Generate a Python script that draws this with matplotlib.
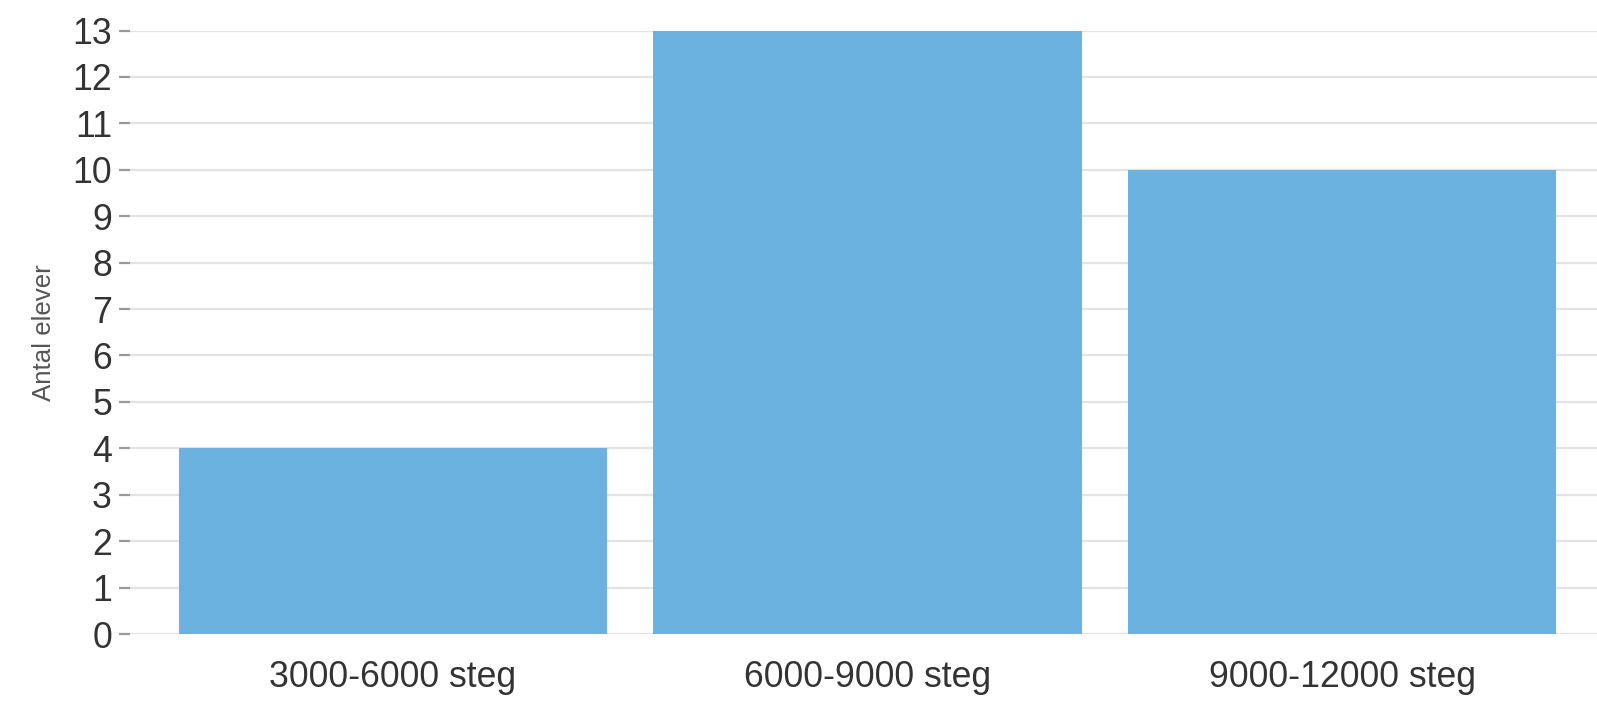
import matplotlib
matplotlib.use("Agg")
import matplotlib.pyplot as plt

categories = ["3000-6000 steg", "6000-9000 steg", "9000-12000 steg"]
values = [4, 13, 10]
y_ticks = list(range(0, 14))
y_label = "Antal elever"

plt.rcParams['font.family'] = ['Liberation Sans', 'DejaVu Sans']

W, H = 1597, 701
fig = plt.figure(figsize=(W / 100, H / 100), dpi=100)
left, right = 130 / W, 1.0
bottom, top = (H - 634) / H, (H - 30.5) / H
ax = fig.add_axes([left, bottom, right - left, top - bottom])

x = list(range(len(categories)))
ax.bar(x, values, width=0.903, color="#6cb2e0", zorder=2)

ax.set_xlim(-0.554, 2.537)
ax.set_ylim(0, 13)
ax.set_yticks(y_ticks)
ax.set_xticks(x)
ax.set_xticklabels(categories)

for s in ax.spines.values():
    s.set_visible(False)

ax.yaxis.grid(True, color="#e3e3e3", linewidth=1.6, zorder=0)
ax.set_axisbelow(True)
ax.tick_params(axis='y', length=8, width=1.6, color="#9a9a9a", pad=5,
               labelsize=25.7, labelcolor="#333333")
ax.tick_params(axis='x', length=0, pad=19, labelsize=25.7, labelcolor="#333333")

ax.set_ylabel(y_label, fontsize=18.6, color="#555555", labelpad=12)

fig.savefig("out.png", dpi=100)
